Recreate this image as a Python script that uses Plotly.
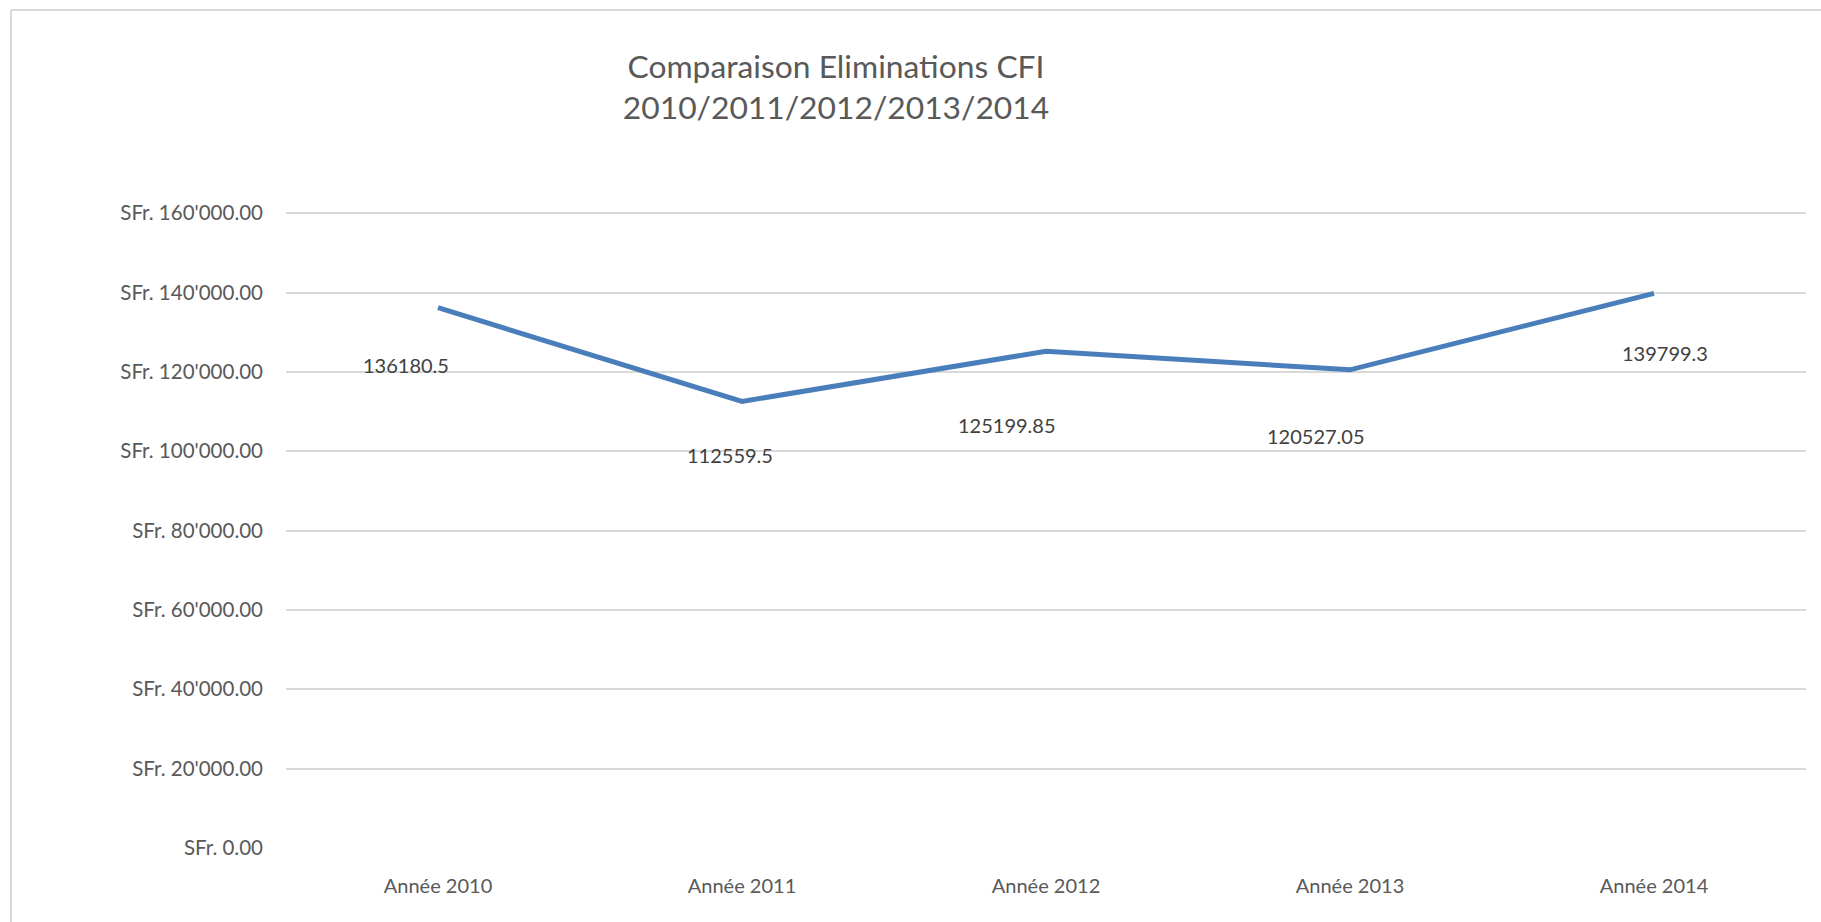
import plotly.graph_objects as go

# Yearly totals of CFI eliminations (SFr.)
categories = ["Année 2010", "Année 2011", "Année 2012", "Année 2013", "Année 2014"]
values = [136180.5, 112559.5, 125199.85, 120527.05, 139799.3]
value_labels = ["136180.5", "112559.5", "125199.85", "120527.05", "139799.3"]

# Y axis ticks
tick_values = [0, 20000, 40000, 60000, 80000, 100000, 120000, 140000, 160000]
tick_labels = ["SFr. 0.00", "SFr. 20'000.00", "SFr. 40'000.00", "SFr. 60'000.00",
               "SFr. 80'000.00", "SFr. 100'000.00", "SFr. 120'000.00",
               "SFr. 140'000.00", "SFr. 160'000.00"]

# Manual offsets (px) of the value labels relative to each point
label_dx = [-32, -12, -39, -34, 11]
label_dy = [-57, -54, -74, -66, -60]

FONT = "Lato"
W, H = 1821, 922
ML, MR, MT, MB = 286, 15, 212, 74
Y_TOP = 160300  # a little headroom so the top gridline is drawn

fig = go.Figure()
fig.add_trace(go.Scatter(
    x=categories, y=values, mode="lines",
    line=dict(color="#4A7EBB", width=5),
    hoverinfo="skip", showlegend=False,
))

for cat, val, txt, dx, dy in zip(categories, values, value_labels, label_dx, label_dy):
    fig.add_annotation(x=cat, y=val, text=txt, showarrow=False,
                       xshift=dx, yshift=dy,
                       font=dict(family=FONT, size=20, color="#404040"))

# Chart frame (left and top edges)
plot_w = W - ML - MR
plot_h = H - MT - MB
def px_x(px):
    return (px - ML) / plot_w
def px_y(py):
    return (H - MB - py) / plot_h

frame = dict(color="#D9D9D9", width=2)
fig.add_shape(type="line", xref="paper", yref="paper",
              x0=px_x(11), x1=px_x(11), y0=px_y(930), y1=px_y(10), line=frame)
fig.add_shape(type="line", xref="paper", yref="paper",
              x0=px_x(11), x1=px_x(1830), y0=px_y(10), y1=px_y(10), line=frame)

fig.update_layout(
    width=W, height=H,
    margin=dict(l=ML, r=MR, t=MT, b=MB),
    paper_bgcolor="white", plot_bgcolor="white",
    title=dict(text="Comparaison Eliminations CFI<br>2010/2011/2012/2013/2014",
               x=836 / W, xanchor="center", xref="container",
               y=1 - 78 / H, yanchor="middle", yref="container",
               font=dict(family=FONT, size=31.8, color="#595959")),
    font=dict(family=FONT, color="#595959"),
)

fig.update_xaxes(
    type="category", range=[-0.5, 4.5],
    showgrid=False, showline=False, zeroline=False, ticks="",
    tickfont=dict(family=FONT, size=20, color="#595959"),
    ticklabelstandoff=24,
)
fig.update_yaxes(
    range=[0, Y_TOP],
    tickvals=tick_values, ticktext=tick_labels,
    showgrid=True, gridcolor="#D9D9D9", gridwidth=1.5,
    showline=False, zeroline=False, ticks="",
    tickfont=dict(family=FONT, size=20.5, color="#595959"),
    ticklabelstandoff=22,
)

fig.write_html("out.html")
